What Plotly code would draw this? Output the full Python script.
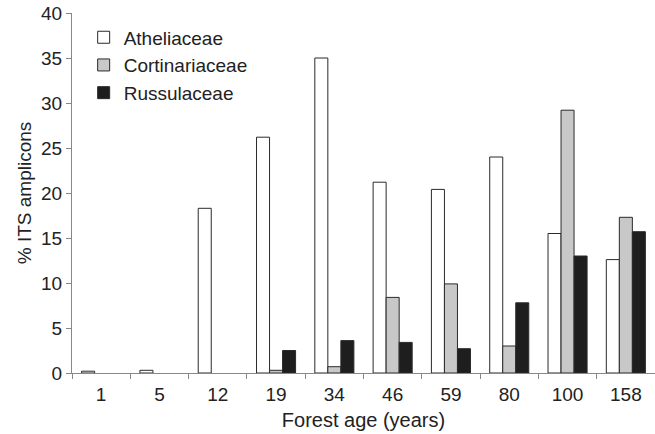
import plotly.graph_objects as go

ages = ["1", "5", "12", "19", "34", "46", "59", "80", "100", "158"]
atheliaceae = [0.2, 0.3, 18.3, 26.2, 35.0, 21.2, 20.4, 24.0, 15.5, 12.6]
cortinariaceae = [None, None, None, 0.3, 0.7, 8.4, 9.9, 3.0, 29.2, 17.3]
russulaceae = [None, None, None, 2.5, 3.6, 3.4, 2.7, 7.8, 13.0, 15.7]
y_ticks = [0, 5, 10, 15, 20, 25, 30, 35, 40]

fig = go.Figure()
for name, vals, col in [("Atheliaceae", atheliaceae, "#ffffff"),
                        ("Cortinariaceae", cortinariaceae, "#c8c8c8"),
                        ("Russulaceae", russulaceae, "#1e1e1e")]:
    fig.add_trace(go.Bar(x=ages, y=vals, name=name,
                         marker=dict(color=col, line=dict(color="#2a2a2a", width=1))))

font = "Liberation Sans, Arial, sans-serif"
fig.update_layout(
    width=655, height=434,
    margin=dict(l=72, r=0, t=13, b=61),
    paper_bgcolor="white", plot_bgcolor="white",
    barmode="group", bargap=0.33, bargroupgap=0,
    font=dict(family=font, size=19, color="#222"),
    legend=dict(x=0.02, y=0.985, xanchor="left", yanchor="top",
                font=dict(size=19, color="#222"), tracegroupgap=0,
                bgcolor="rgba(0,0,0,0)"),
    xaxis=dict(type="category", tickson="boundaries", ticks="outside", ticklen=5,
               tickcolor="#888", showline=True, linecolor="#888", linewidth=1,
               ticklabelstandoff=4,
               title=dict(text="Forest age (years)", font=dict(size=20), standoff=9),
               tickfont=dict(size=19)),
    yaxis=dict(range=[0, 40], tickvals=y_ticks, ticks="outside", ticklen=5,
               tickcolor="#888", showline=True, linecolor="#888", linewidth=1,
               showgrid=False, zeroline=False,
               title=dict(text="% ITS amplicons", font=dict(size=19), standoff=4),
               tickfont=dict(size=19)),
)
fig.write_html("out.html",
               config={"displayModeBar": False},
               post_script="document.body.style.margin='0';document.body.style.overflow='hidden';")
